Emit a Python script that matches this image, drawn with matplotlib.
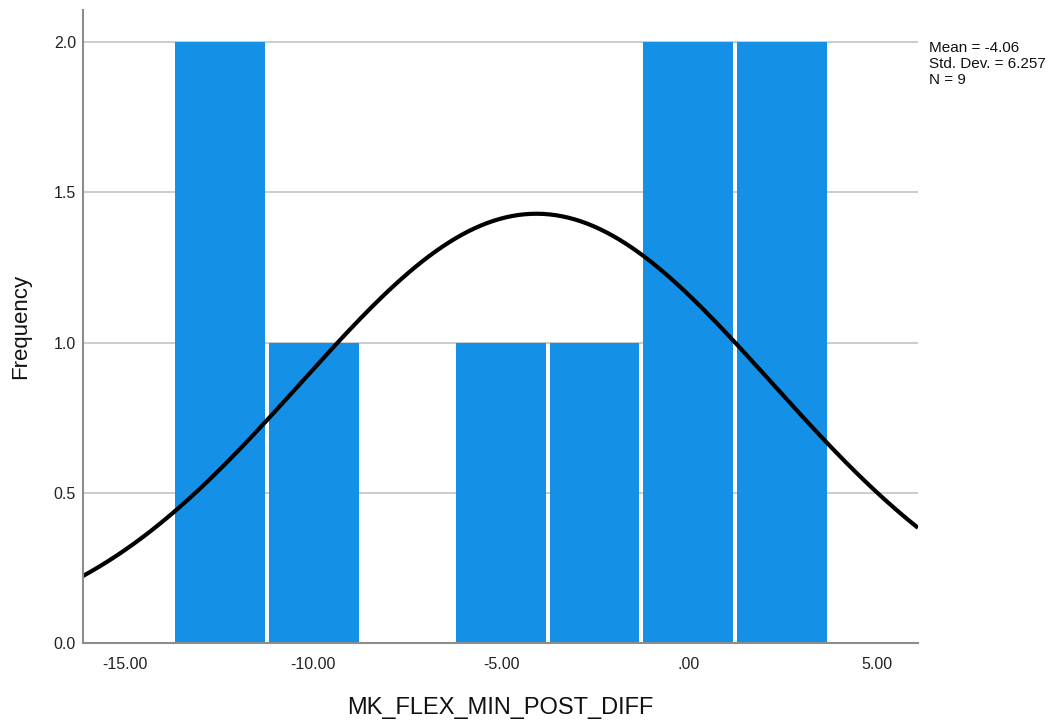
import numpy as np
import matplotlib.pyplot as plt

plt.rcParams['font.family'] = ['Liberation Sans', 'DejaVu Sans']

# histogram bins (data units) and counts per bin
bin_edges = [-13.67, -11.18, -8.69, -6.20, -3.71, -1.22, 1.27, 3.76]
counts = [2, 1, 0, 1, 1, 2, 2]

mean = -4.06
std_dev = 6.257
n_obs = 9

x_ticks = [-15, -10, -5, 0, 5]
x_tick_labels = ['-15.00', '-10.00', '-5.00', '.00', '5.00']
y_ticks = [0.0, 0.5, 1.0, 1.5, 2.0]

fig = plt.figure(figsize=(10.57, 7.21), dpi=100)
ax = fig.add_axes([0.0785, 0.1082, 0.79, 0.8779])

# grid behind the bars
for yt in y_ticks[1:]:
    ax.axhline(yt, color='#c8c8c8', lw=1.3, zorder=0)

lefts = np.array(bin_edges[:-1])
widths = np.diff(bin_edges)
gap = 0.1  # white gap between neighbouring bars
ax.bar(lefts, counts, width=widths - gap, align='edge', color='#1490e6',
       linewidth=0, zorder=2)

# normal curve scaled to the histogram
bw = widths.mean()
xs = np.linspace(-16.12, 6.09, 400)
pdf = np.exp(-0.5 * ((xs - mean) / std_dev) ** 2) / (std_dev * np.sqrt(2 * np.pi))
ax.plot(xs, n_obs * bw * pdf, color='black', lw=3, zorder=3, solid_capstyle='butt')

ax.set_xlim(-16.12, 6.09)
ax.set_ylim(0, 2.107)
ax.set_xticks(x_ticks)
ax.set_xticklabels(x_tick_labels)
ax.set_yticks(y_ticks)
ax.set_yticklabels(['0.0', '0.5', '1.0', '1.5', '2.0'])
ax.tick_params(axis='both', length=0, labelsize=11.5, colors='#222222')
ax.tick_params(axis='x', pad=10)
ax.tick_params(axis='y', pad=5)

for side in ['top', 'right']:
    ax.spines[side].set_visible(False)
for side in ['left', 'bottom']:
    ax.spines[side].set_color('#8c8c8c')
    ax.spines[side].set_linewidth(1.5)
    ax.spines[side].set_zorder(4)

ax.set_xlabel('MK_FLEX_MIN_POST_DIFF', fontsize=17, labelpad=18, color='#111111')
ax.set_ylabel('Frequency', fontsize=16, labelpad=16, color='#111111')

fig.text(0.879, 0.943, f'Mean = {mean:.2f}\nStd. Dev. = {std_dev:.3f}\nN = {n_obs}',
         fontsize=11, color='#111111', va='top', linespacing=1.2)

fig.savefig('out.png', dpi=100)
